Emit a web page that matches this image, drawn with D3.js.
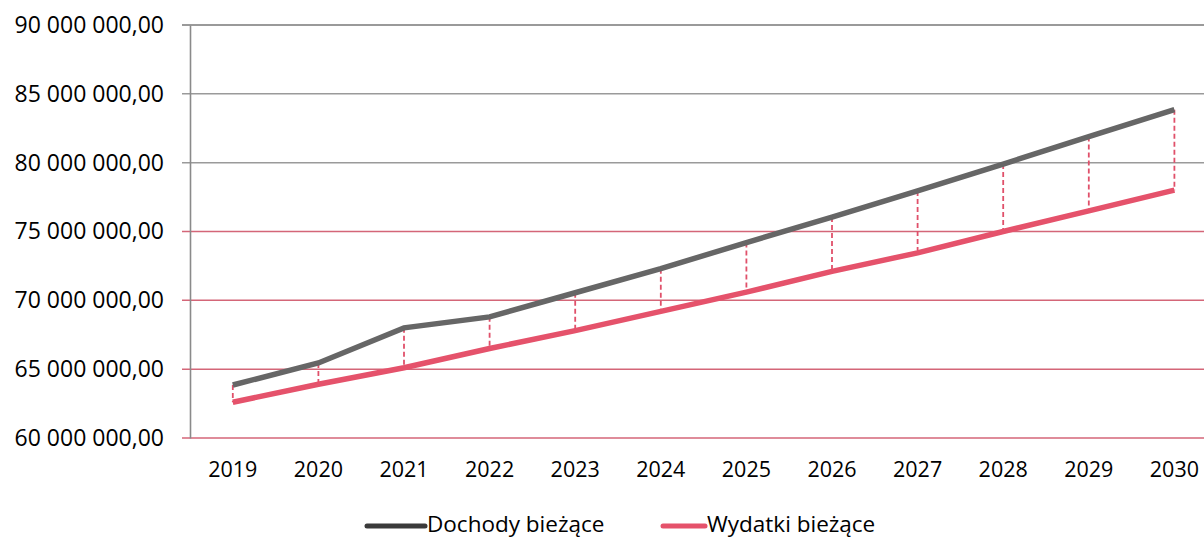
<!DOCTYPE html>
<html>
<head>
<meta charset="utf-8">
<script src="https://cdn.jsdelivr.net/npm/d3@7"></script>
<style>
  body { margin: 0; background: #fff; }
  svg { display: block; }
  text { font-family: "Open Sans", "DejaVu Sans", sans-serif; fill: #000; }
</style>
</head>
<body>
<div id="chart"></div>
<script>
let years = ["2019", "2020", "2021", "2022", "2023", "2024", "2025", "2026", "2027", "2028", "2029", "2030"];
let dochody = [63.85, 65.45, 68.0, 68.8, 70.55, 72.3, 74.2, 76.05, 77.95, 79.9, 81.9, 83.85].map((v) => v * 1e6);
let wydatki = [62.6, 63.9, 65.1, 66.5, 67.8, 69.2, 70.6, 72.1, 73.45, 75.0, 76.5, 78.0].map((v) => v * 1e6);
let yTicks = [60e6, 65e6, 70e6, 75e6, 80e6, 85e6, 90e6];
let seriesNames = ["Dochody bieżące", "Wydatki bieżące"];

let svgWidth = 1204;
let svgHeight = 540;
let plotLeft = 190;
let plotTop = 25;
let plotBottom = 438;

let svg = d3.select("#chart").append("svg")
  .attr("width", svgWidth)
  .attr("height", svgHeight);

let xScale = d3.scaleBand().domain(years).range([plotLeft, plotLeft + 12 * 85.6]);
let yScale = d3.scaleLinear().domain([60e6, 90e6]).range([plotBottom, plotTop]);

let fmt = (v) => d3.format(",.2f")(v).replace(/,/g, " ").replace(".", ",");

// gridlines
svg.append("g")
  .selectAll("line")
  .data(yTicks)
  .enter()
  .append("line")
  .attr("x1", plotLeft - 8)
  .attr("x2", svgWidth)
  .attr("y1", (d) => yScale(d))
  .attr("y2", (d) => yScale(d))
  .attr("stroke", (d) => (d <= 75e6 ? "#d46678" : "#9a9a9a"))
  .attr("stroke-width", (d) => (d == 90e6 ? 2.2 : 1.5));

// y axis
let yAxis = d3.axisLeft(yScale).tickValues(yTicks).tickFormat(fmt).tickSize(0).tickPadding(26);
let yg = svg.append("g").attr("transform", "translate(" + plotLeft + ",0)").call(yAxis);
yg.select(".domain").attr("stroke", "#8a8a8a").attr("stroke-width", 1.6);
yg.selectAll("text").style("font-size", "23px").attr("fill", "#000");

// x axis labels
let xAxis = d3.axisBottom(xScale).tickSize(0).tickPadding(24);
let xg = svg.append("g").attr("transform", "translate(0," + plotBottom + ")").call(xAxis);
xg.select(".domain").remove();
xg.selectAll("text").style("font-size", "21.5px").attr("fill", "#000");

let cx = (i) => xScale(years[i]) + xScale.bandwidth() / 2;

// high-low drop lines
svg.append("g")
  .selectAll("line")
  .data(years)
  .enter()
  .append("line")
  .attr("x1", (d, i) => cx(i))
  .attr("x2", (d, i) => cx(i))
  .attr("y1", (d, i) => yScale(dochody[i]))
  .attr("y2", (d, i) => yScale(wydatki[i]))
  .attr("stroke", "#e0506a")
  .attr("stroke-width", 1.8)
  .attr("stroke-dasharray", "5,3");

let line = d3.line().x((d, i) => cx(i)).y((d) => yScale(d));

svg.append("path")
  .attr("d", line(wydatki))
  .attr("fill", "none")
  .attr("stroke", "#e5526b")
  .attr("stroke-width", 5.5);

svg.append("path")
  .attr("d", line(dochody))
  .attr("fill", "none")
  .attr("stroke", "#666666")
  .attr("stroke-width", 5.5);

// legend
let legendColors = ["#3a3a3a", "#e5526b"];
let legendX = [367, 663];
let legendW = [58, 42];
let legend = svg.append("g");
seriesNames.forEach((name, i) => {
  legend.append("line")
    .attr("x1", legendX[i])
    .attr("x2", legendX[i] + legendW[i])
    .attr("y1", 526)
    .attr("y2", 526)
    .attr("stroke", legendColors[i])
    .attr("stroke-width", 5)
    .attr("stroke-linecap", "round");
  legend.append("text")
    .attr("x", legendX[i] + legendW[i] + 2)
    .attr("y", 532)
    .style("font-size", "22.5px")
    .text(name);
});
</script>
</body>
</html>
